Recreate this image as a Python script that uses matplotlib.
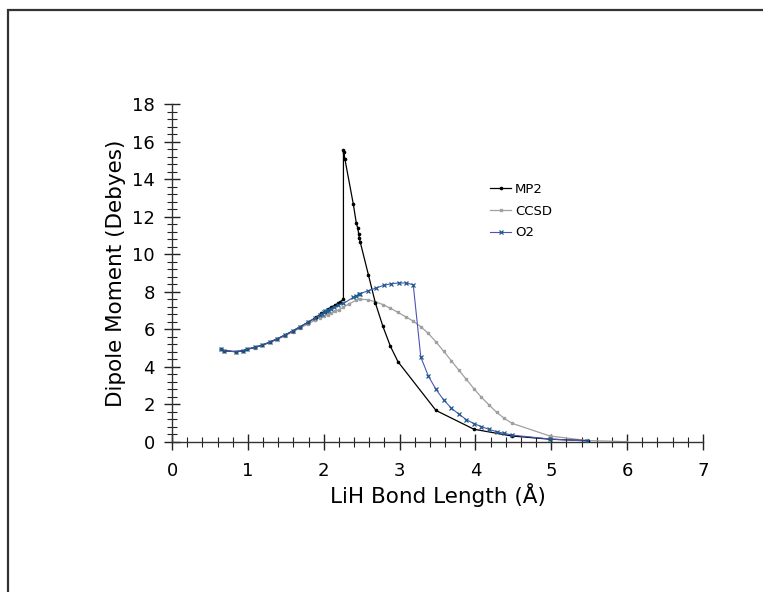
import numpy as np
import matplotlib
matplotlib.use("Agg")
import matplotlib.pyplot as plt
from matplotlib.patches import Rectangle
from matplotlib.ticker import MultipleLocator

# values
mp2_x = [0.64, 0.69, 0.84, 0.94, 0.99, 1.09, 1.19, 1.29, 1.39, 1.49, 1.59, 1.69,
         1.79, 1.90, 1.97, 2.02, 2.06, 2.10, 2.15, 2.19, 2.22, 2.26, 2.26, 2.265,
         2.28, 2.39, 2.43, 2.45, 2.46, 2.47, 2.48, 2.59, 2.68, 2.78, 2.88, 2.98,
         3.48, 3.98, 4.48, 4.98, 5.48]
mp2_y = [4.94, 4.86, 4.81, 4.86, 4.94, 5.04, 5.16, 5.32, 5.50, 5.70, 5.91, 6.14,
         6.37, 6.64, 6.85, 6.94, 7.07, 7.17, 7.30, 7.38, 7.47, 7.60, 15.55, 15.45,
         15.05, 12.67, 11.65, 11.38, 11.10, 10.85, 10.67, 8.89, 7.42, 6.16, 5.09, 4.27,
         1.68, 0.68, 0.32, 0.15, 0.07]

ccsd_x = [0.64, 0.69, 0.84, 0.94, 0.99, 1.09, 1.19, 1.29, 1.39, 1.49, 1.59, 1.69,
          1.79, 1.89, 1.95, 2.00, 2.05, 2.10, 2.15, 2.20, 2.26, 2.33, 2.43, 2.48,
          2.58, 2.68, 2.78, 2.88, 2.98, 3.08, 3.18, 3.28, 3.38, 3.48, 3.58, 3.68,
          3.78, 3.88, 3.98, 4.08, 4.18, 4.28, 4.38, 4.48, 4.98, 5.47, 5.98]
ccsd_y = [4.94, 4.86, 4.81, 4.86, 4.94, 5.03, 5.15, 5.30, 5.47, 5.66, 5.86, 6.07,
          6.28, 6.50, 6.62, 6.70, 6.78, 6.86, 6.95, 7.04, 7.18, 7.35, 7.55, 7.60,
          7.58, 7.47, 7.32, 7.12, 6.90, 6.67, 6.44, 6.14, 5.78, 5.33, 4.84, 4.34,
          3.83, 3.34, 2.84, 2.38, 1.97, 1.58, 1.26, 1.00, 0.32, 0.08, 0.02]

o2_x = [0.64, 0.69, 0.84, 0.94, 0.99, 1.09, 1.19, 1.29, 1.39, 1.49, 1.59, 1.69,
        1.79, 1.89, 1.95, 1.98, 2.00, 2.02, 2.04, 2.06, 2.09, 2.14, 2.19, 2.26,
        2.39, 2.43, 2.46, 2.48, 2.59, 2.69, 2.79, 2.89, 2.99, 3.08, 3.18, 3.28,
        3.38, 3.48, 3.58, 3.68, 3.78, 3.88, 3.98, 4.08, 4.18, 4.28, 4.38, 4.48,
        4.98, 5.47]
o2_y = [4.94, 4.86, 4.81, 4.86, 4.94, 5.04, 5.16, 5.32, 5.50, 5.70, 5.91, 6.14,
        6.37, 6.60, 6.76, 6.84, 6.90, 6.95, 7.00, 7.05, 7.10, 7.20, 7.28, 7.38,
        7.70, 7.80, 7.86, 7.90, 8.06, 8.20, 8.34, 8.43, 8.47, 8.47, 8.38, 4.52,
        3.51, 2.80, 2.25, 1.81, 1.49, 1.19, 0.98, 0.82, 0.67, 0.55, 0.46, 0.37,
        0.16, 0.05]

W, H = 763, 592
fig = plt.figure(figsize=(W / 100, H / 100), dpi=100)
ax = fig.add_axes([172 / W, 1 - 442 / H, (703 - 172) / W, (442 - 104) / H])

ax.plot(mp2_x, mp2_y, color="black", lw=0.9, marker="o", ms=1.6,
        label="MP2", zorder=3)
ax.plot(ccsd_x, ccsd_y, color="#a0a0a0", lw=0.9, marker="s", ms=1.6,
        label="CCSD", zorder=2)
ax.plot(o2_x, o2_y, color="#4a55b8", lw=0.8, marker="x", ms=2.4, mew=0.9,
        mec="#1f5a8c", label="O2", zorder=4)

ax.set_xlim(0, 7)
ax.set_ylim(0, 18)
ax.xaxis.set_major_locator(MultipleLocator(1))
ax.xaxis.set_minor_locator(MultipleLocator(0.2))
ax.yaxis.set_major_locator(MultipleLocator(2))
ax.yaxis.set_minor_locator(MultipleLocator(0.4))

for s in ["top", "right"]:
    ax.spines[s].set_visible(False)
for s in ["left", "bottom"]:
    ax.spines[s].set_color("#333333")
    ax.spines[s].set_linewidth(1.0)

ax.tick_params(which="major", direction="inout", length=11, width=1.0,
               color="#222222", labelsize=13)
ax.tick_params(which="minor", direction="inout", length=7, width=0.8,
               color="#222222")
ax.tick_params(axis="x", which="major", pad=9)
ax.tick_params(axis="y", which="major", pad=7)

ax.set_xlabel("LiH Bond Length (Å)", fontsize=15.5, labelpad=2)
ax.set_ylabel("Dipole Moment (Debyes)", fontsize=15.5, labelpad=4)

ax.legend(loc="upper left", bbox_to_anchor=(490 / W, 1 - 183 / H),
          bbox_transform=fig.transFigure, frameon=False, fontsize=9.5,
          handlelength=1.6, handletextpad=0.3, labelspacing=0.65,
          borderpad=0, borderaxespad=0)

# outer frame, open at the right and bottom edges
fig.patches.append(Rectangle((7.5 / W, -0.1), 1.2, 1 - 9.5 / H + 0.1,
                             transform=fig.transFigure, fill=False,
                             edgecolor="#333333", lw=1.6))

fig.savefig("out.png", dpi=100)
